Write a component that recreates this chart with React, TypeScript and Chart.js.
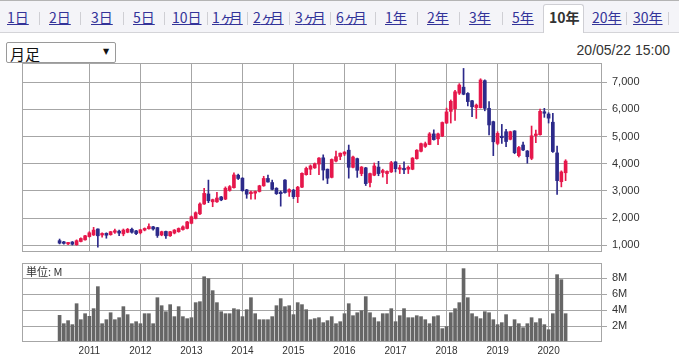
import React, { useEffect, useRef } from 'react';
import { Chart, registerables } from 'chart.js';

Chart.register(...registerables);

// ---- categories: monthly candles 2010/06 .. 2020/05 ----
const START_YEAR = 2010;
const START_MONTH = 6;
const months: string[] = [];
for (let k = 0; k < 120; k++) {
  const m = START_MONTH - 1 + k;
  months.push(`${START_YEAR + Math.floor(m / 12)}/${String((m % 12) + 1).padStart(2, '0')}`);
}

// ---- series values (yen) ----
const opens = [
  1170, 1110, 1050, 1120, 1020, 1140, 1200, 1320, 1380, 1600, 1380, 1440, 1390, 1480, 1520, 1420, 1480, 1590, 1530, 1460,
  1560, 1610, 1680, 1650, 1380, 1510, 1350, 1450, 1500, 1580, 1620, 1810, 1990, 2160, 2520, 2890, 2600, 2600, 2780, 2700,
  3020, 3120, 3580, 3470, 3040, 2900, 2920, 2980, 3190, 3460, 3310, 3100, 2950, 3400, 2960, 3030, 2790, 3140, 3600, 3800,
  3850, 3990, 4220, 3800, 3500, 4100, 4270, 4360, 4500, 3870, 4190, 3640, 3850, 3310, 3580, 3880, 3680, 3640, 3700, 4070,
  3800, 3800, 3800, 3800, 4190, 4460, 4640, 4710, 5100, 4920, 5020, 5500, 5930, 6030, 6600, 6820, 6590, 6320, 6070, 6065,
  7060, 6040, 5550, 4750, 4990, 5180, 4900, 5210, 4300, 4690, 4470, 4200, 5040, 5070, 5900, 5830, 5530, 4400, 3340, 3670,
];
const highs = [
  1230, 1150, 1110, 1140, 1200, 1270, 1370, 1500, 1660, 1610, 1460, 1460, 1510, 1600, 1560, 1600, 1620, 1630, 1550, 1590,
  1640, 1790, 1700, 1660, 1520, 1520, 1510, 1580, 1640, 1720, 1880, 2080, 2230, 2560, 3100, 3400, 2700, 2950, 2800, 3150,
  3200, 3670, 3620, 3490, 3060, 3000, 3000, 3210, 3540, 3580, 3400, 3120, 3000, 3420, 3080, 3060, 3170, 3670, 3880, 3960,
  4030, 4230, 4330, 3810, 4180, 4470, 4400, 4450, 4690, 4280, 4210, 3900, 3870, 3660, 4030, 4090, 3800, 3740, 4090, 4080,
  3950, 4070, 3920, 4230, 4520, 4760, 4800, 5150, 5250, 5130, 5540, 6050, 6350, 6700, 6950, 7510, 6620, 6340, 6200, 7130,
  7090, 6290, 5570, 5180, 5450, 5270, 5200, 5220, 4640, 4800, 4490, 5390, 5240, 6010, 6040, 5880, 5860, 4650, 3740, 4150,
];
const lows = [
  1050, 1040, 1020, 1010, 1000, 1120, 1190, 1300, 1360, 930, 1300, 1260, 1370, 1440, 1350, 1350, 1460, 1450, 1390, 1420,
  1530, 1590, 1560, 1290, 1350, 1250, 1330, 1420, 1480, 1560, 1600, 1790, 1970, 2130, 2500, 2570, 2420, 2580, 2640, 2680,
  2990, 3100, 3420, 2990, 2730, 2700, 2700, 2960, 3170, 3320, 3040, 2870, 2440, 2920, 2800, 2720, 2570, 3120, 3580, 3600,
  3830, 3600, 3400, 3270, 3480, 4070, 4150, 4300, 3470, 3850, 3500, 3560, 3200, 3150, 3560, 3560, 3510, 3270, 3680, 3700,
  3640, 3640, 3640, 3780, 4170, 4440, 4600, 4700, 4870, 4700, 5000, 5480, 5500, 5600, 6550, 6540, 6130, 5730, 5670, 6050,
  5950, 5060, 4300, 4700, 4750, 4630, 4880, 4370, 4250, 4480, 4020, 4150, 4780, 5050, 5710, 5500, 4420, 2870, 3150, 3380,
];
const closes = [
  1080, 1070, 1090, 1040, 1170, 1250, 1350, 1460, 1560, 1350, 1420, 1370, 1500, 1510, 1450, 1560, 1590, 1480, 1430, 1570,
  1620, 1690, 1600, 1360, 1500, 1350, 1500, 1560, 1620, 1680, 1860, 2050, 2200, 2520, 2910, 2640, 2680, 2740, 2670, 3100,
  3160, 3590, 3460, 3010, 2880, 2960, 2980, 3190, 3460, 3330, 3060, 2900, 2900, 2940, 3050, 2790, 3140, 3650, 3830, 3920,
  4000, 4210, 3770, 3470, 4160, 4260, 4390, 4430, 3870, 4250, 3760, 3880, 3270, 3640, 3920, 3640, 3750, 3720, 4040, 3820,
  3850, 3780, 3870, 4210, 4500, 4740, 4740, 5100, 4890, 5100, 5520, 5910, 6300, 6650, 6900, 6560, 6290, 6100, 6160, 7085,
  6040, 5430, 4810, 5120, 4960, 4820, 5180, 4410, 4600, 4510, 4260, 5030, 5090, 5930, 5860, 5680, 4450, 3380, 3700, 4100,
];
// volume in millions of shares
const volumes = [
  3.33, 2.29, 2.67, 2.17, 4.79, 2.79, 3.54, 3.21, 4.17, 6.92, 2.29, 2.79, 3.66, 2.79, 3.04, 4.42, 3.42, 2.29, 2.54, 2.29,
  3.54, 3.54, 2.29, 5.54, 4.54, 3.79, 4.67, 3.17, 4.42, 3.17, 2.92, 3.04, 4.92, 5.04, 8.16, 7.92, 6.42, 4.92, 3.79, 3.54,
  3.54, 4.17, 4.04, 3.17, 4.04, 5.54, 3.54, 2.79, 2.79, 2.79, 3.17, 4.54, 5.42, 4.42, 4.54, 3.42, 4.92, 4.67, 4.04, 2.79,
  2.92, 3.04, 2.42, 2.67, 3.17, 2.29, 2.54, 3.54, 4.79, 3.29, 3.66, 3.92, 5.67, 3.66, 3.04, 2.54, 3.54, 3.54, 4.17, 2.54,
  3.29, 4.17, 3.04, 3.04, 3.29, 3.17, 2.79, 2.29, 3.17, 3.29, 1.67, 1.92, 3.66, 4.17, 4.92, 9.17, 5.54, 3.54, 3.17, 2.92,
  3.79, 3.66, 2.79, 2.17, 2.42, 3.42, 1.92, 2.79, 2.29, 1.79, 2.29, 3.04, 2.42, 2.92, 2.17, 1.54, 3.54, 8.42, 7.79, 3.54,
];

// ---- tick labels ----
const priceTicks = [1000, 2000, 3000, 4000, 5000, 6000, 7000];
const priceTickLabels = ['1,000', '2,000', '3,000', '4,000', '5,000', '6,000', '7,000'];
const volTicks = [2, 4, 6, 8];
const volTickLabels = ['2M', '4M', '6M', '8M'];
const yearTicks = months.map((m, i) => (m.endsWith('/01') ? i : -1)).filter((i) => i >= 0);
const yearLabels = yearTicks.map((i) => months[i].slice(0, 4));

const tabs = ['1日', '2日', '3日', '5日', '10日', '1ヶ月', '2ヶ月', '3ヶ月', '6ヶ月', '1年', '2年', '3年', '5年', '10年', '20年', '30年'];
const SELECTED = '10年';

// ---- styling ----
const UP = '#e6174b';
const DOWN = '#2c2a8a';
const VOL = '#666666';
const GRID = '#a6a6a6';
const X_MIN = -8.84;
const X_MAX = 127.56;
const AXIS_FONT = { family: '"Liberation Sans", Arial, sans-serif', size: 11 };

const tabLeft = [7, 49, 91, 133, 172, 212, 253, 295, 336, 385, 427, 469, 512, 549, 592, 633];
const sepLeft = [39, 80, 123, 164, 207, 247, 289, 330, 375, 417, 459, 502, 626, 668];

const frame = {
  id: 'frame',
  afterDraw(chart: any) {
    const { left, top, right, bottom } = chart.chartArea;
    const ctx = chart.ctx;
    ctx.save();
    ctx.strokeStyle = GRID;
    ctx.lineWidth = 1;
    ctx.strokeRect(Math.round(left) + 0.5, Math.round(top) + 0.5, Math.round(right - left) - 1, Math.round(bottom - top) - 1);
    ctx.restore();
  },
};

function PriceChart() {
  const ref = useRef<HTMLCanvasElement>(null);
  useEffect(() => {
    const idx = months.map((_, i) => i);
    const colors = idx.map((i) => (closes[i] >= opens[i] ? UP : DOWN));
    const chart = new Chart(ref.current as HTMLCanvasElement, {
      type: 'bar',
      data: {
        datasets: [
          {
            data: idx.map((i) => ({ x: i, y: [opens[i], closes[i]] })) as any,
            backgroundColor: colors,
            barThickness: 3,
            grouped: false,
            minBarLength: 1.5,
            borderWidth: 0,
          } as any,
          {
            data: idx.map((i) => ({ x: i, y: [lows[i], highs[i]] })) as any,
            backgroundColor: colors,
            barThickness: 1,
            grouped: false,
            borderWidth: 0,
          } as any,
        ],
      },
      options: {
        animation: false,
        responsive: false,
        events: [],
        layout: { padding: { left: 22, top: 7, right: 0, bottom: 4 } },
        plugins: { legend: { display: false }, tooltip: { enabled: false } },
        scales: {
          x: {
            type: 'linear',
            min: X_MIN,
            max: X_MAX,
            offset: false,
            grid: { color: GRID, drawTicks: false, offset: false },
            border: { display: false },
            ticks: { display: false },
            afterBuildTicks: (s: any) => {
              s.ticks = yearTicks.map((v) => ({ value: v }));
            },
            afterFit: (s: any) => {
              s.height = 0;
              s.paddingLeft = 0;
              s.paddingRight = 0;
            },
          },
          y: {
            type: 'linear',
            position: 'right',
            min: 753,
            max: 7710,
            beginAtZero: false,
            grid: { color: GRID, tickLength: 5 },
            border: { display: false },
            ticks: {
              font: AXIS_FONT,
              color: '#333',
              padding: 5,
              callback: (_v: any, i: number) => priceTickLabels[i],
            },
            afterBuildTicks: (s: any) => {
              s.ticks = priceTicks.map((v) => ({ value: v }));
            },
            afterFit: (s: any) => {
              s.width = 77;
              s.paddingTop = 0;
              s.paddingBottom = 0;
            },
          },
        },
      } as any,
      plugins: [frame],
    });
    return () => chart.destroy();
  }, []);
  return (
    <canvas
      ref={ref}
      width={679}
      height={200}
      style={{ position: 'absolute', left: 0, top: 56, width: 679, height: 200 }}
    />
  );
}

function VolumeChart() {
  const ref = useRef<HTMLCanvasElement>(null);
  useEffect(() => {
    const idx = months.map((_, i) => i);
    const chart = new Chart(ref.current as HTMLCanvasElement, {
      type: 'bar',
      data: {
        datasets: [
          {
            data: idx.map((i) => ({ x: i, y: volumes[i] })) as any,
            backgroundColor: VOL,
            barThickness: 3,
            grouped: false,
            borderWidth: 0,
          } as any,
        ],
      },
      options: {
        animation: false,
        responsive: false,
        events: [],
        layout: { padding: { left: 22, top: 5, right: 0, bottom: 0 } },
        plugins: { legend: { display: false }, tooltip: { enabled: false } },
        scales: {
          x: {
            type: 'linear',
            min: X_MIN,
            max: X_MAX,
            offset: false,
            grid: { color: GRID, drawTicks: false, offset: false },
            border: { display: false },
            ticks: {
              font: { family: '"Liberation Sans", Arial, sans-serif', size: 10 },
              color: '#333',
              padding: 3,
              autoSkip: false,
              maxRotation: 0,
              callback: (_v: any, i: number) => yearLabels[i],
            },
            afterBuildTicks: (s: any) => {
              s.ticks = yearTicks.map((v) => ({ value: v }));
            },
            afterFit: (s: any) => {
              s.height = 14;
              s.paddingLeft = 0;
              s.paddingRight = 0;
            },
          },
          y: {
            type: 'linear',
            position: 'right',
            min: 0,
            max: 9.875,
            beginAtZero: true,
            grid: { color: GRID, tickLength: 5 },
            border: { display: false },
            ticks: {
              font: AXIS_FONT,
              color: '#333',
              padding: 5,
              callback: (_v: any, i: number) => volTickLabels[i],
            },
            afterBuildTicks: (s: any) => {
              s.ticks = volTicks.map((v) => ({ value: v }));
            },
            afterFit: (s: any) => {
              s.width = 77;
              s.paddingTop = 0;
              s.paddingBottom = 0;
            },
          },
        },
      } as any,
      plugins: [frame],
    });
    return () => chart.destroy();
  }, []);
  return (
    <canvas
      ref={ref}
      width={679}
      height={98}
      style={{ position: 'absolute', left: 0, top: 258, width: 679, height: 98 }}
    />
  );
}

function TabText({ t }: { t: string }) {
  // the small "ヶ" is set narrower, as in the reference
  const parts = t.split('ヶ');
  if (parts.length === 1) return <>{t}</>;
  return (
    <>
      {parts[0]}
      <span style={{ letterSpacing: '-5px' }}>ヶ</span>
      {parts[1]}
    </>
  );
}

export default function App() {
  const jp = '"Noto Sans CJK JP", "Noto Sans", sans-serif';
  return (
    <div
      style={{
        position: 'relative',
        width: 679,
        height: 356,
        overflow: 'hidden',
        background: '#fff',
        fontFamily: jp,
      }}
    >
      <style>{'body{margin:0}'}</style>
      {/* tab bar */}
      <div
        style={{
          position: 'absolute',
          left: 0,
          top: 0,
          width: 679,
          height: 33,
          boxSizing: 'border-box',
          background: '#f4f4f8',
          borderTop: '1px solid #b4b4b4',
          borderBottom: '1px solid #d4d4d8',
        }}
      />
      <div
        style={{
          position: 'absolute',
          left: 543,
          top: 4,
          width: 41,
          height: 29,
          boxSizing: 'border-box',
          background: '#fff',
          border: '1px solid #cfcfd4',
          borderBottom: 'none',
          borderRadius: '3px 3px 0 0',
        }}
      />
      {sepLeft.map((x, i) => (
        <div
          key={'s' + i}
          style={{ position: 'absolute', left: x, top: 12, width: 1, height: 13, background: '#cfcfd4' }}
        />
      ))}
      {tabs.map((t, i) => (
        <span
          key={t}
          style={{
            position: 'absolute',
            left: tabLeft[i],
            top: 7,
            fontSize: 14,
            lineHeight: '20px',
            whiteSpace: 'nowrap',
            color: t === SELECTED ? '#333' : '#333399',
            fontWeight: t === SELECTED ? 'bold' : 'normal',
            textDecoration: t === SELECTED ? 'none' : 'underline',
          }}
        >
          <TabText t={t} />
        </span>
      ))}
      {/* period select */}
      <div
        style={{
          position: 'absolute',
          left: 6,
          top: 42,
          width: 110,
          height: 21,
          boxSizing: 'border-box',
          border: '1px solid #9a9a9a',
          borderRadius: 2,
          background: '#fff',
        }}
      >
        <span style={{ position: 'absolute', left: 3, top: 0, fontSize: 15, lineHeight: '21px', color: '#111' }}>月足</span>
        <span
          style={{
            position: 'absolute',
            left: 96,
            top: 3,
            fontSize: 8,
            lineHeight: '12px',
            color: '#111',
            fontFamily: '"DejaVu Sans", sans-serif',
          }}
        >
          ▼
        </span>
      </div>
      <div
        style={{
          position: 'absolute',
          right: 9,
          top: 42,
          fontSize: 14,
          lineHeight: '16px',
          color: '#333',
          fontFamily: '"Liberation Sans", Arial, sans-serif',
        }}
      >
        20/05/22 15:00
      </div>
      <PriceChart />
      <VolumeChart />
      <div
        style={{
          position: 'absolute',
          left: 26,
          top: 264,
          fontSize: 11,
          lineHeight: '15px',
          color: '#333',
        }}
      >
        単位: M
      </div>
    </div>
  );
}
